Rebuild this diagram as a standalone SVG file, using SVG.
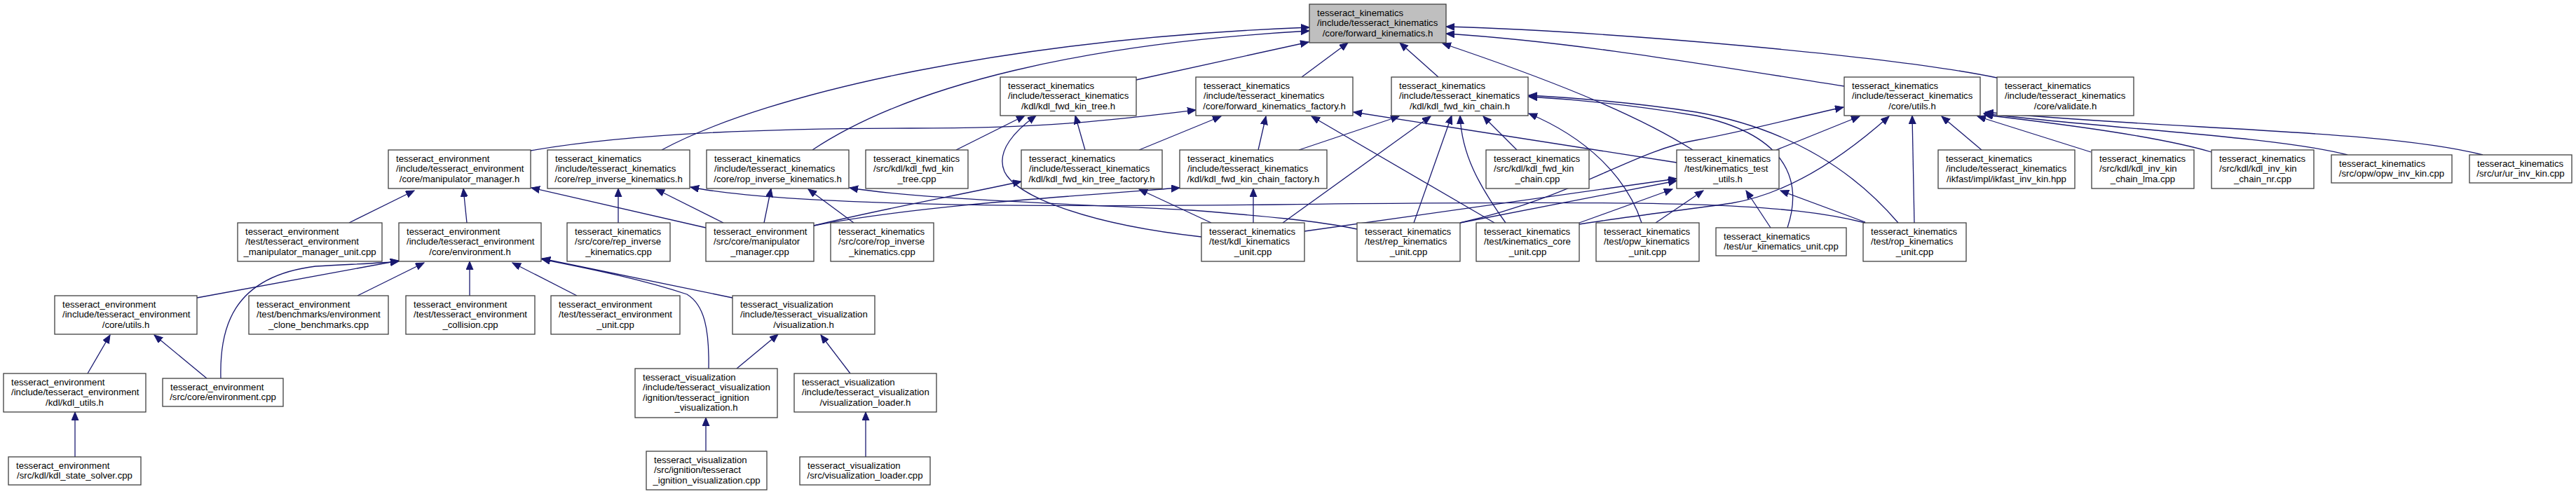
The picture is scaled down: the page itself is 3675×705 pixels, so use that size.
<svg xmlns="http://www.w3.org/2000/svg" width="3675" height="705" viewBox="0 0 3675 705">
<style>
.node rect{fill:#ffffff;stroke:#404040;stroke-width:1.3}
.node.root rect{fill:#bfbfbf}
.node text{font-family:"Liberation Sans",Arial,sans-serif;font-size:13.2px;fill:#000}
.c{text-anchor:middle}
.edges path{fill:none;stroke:#191970;stroke-width:1.3;marker-end:url(#ah)}
</style>
<defs>
<marker id="ah" markerUnits="userSpaceOnUse" markerWidth="14" markerHeight="12" refX="12" refY="5" orient="auto">
<path d="M0,0 L12,5 L0,10 z" fill="#191970" stroke="#191970" stroke-width="1"/>
</marker>
</defs>
<rect width="3675" height="705" fill="#ffffff"/>
<g class="edges" id="edges">
<path d="M944,214 C1100,130 1450,55 1868,39"/>
<path d="M1159,214 C1300,120 1550,62 1868,44"/>
<path d="M1621,114 L1867,60"/>
<path d="M1857,110 L1923,61"/>
<path d="M2052,110 L1997,61"/>
<path d="M2849,111 C2700,80 2300,45 2063,38"/>
<path d="M2631,123 C2450,95 2250,60 2063,48"/>
<path d="M2415,214 C2330,160 2200,110 2058,62"/>
<path d="M757,215 C900,190 1100,183 1300,183 C1500,183 1600,170 1706,157"/>
<path d="M1625,214 L1742,166"/>
<path d="M1795,214 L1806,166"/>
<path d="M2132,318 L1871,166"/>
<path d="M2392,232 L1931,160"/>
<path d="M1364,214 L1462,165"/>
<path d="M1548,214 L1534,165"/>
<path d="M1714,338 C1550,320 1450,280 1433,245 C1420,215 1450,185 1478,165"/>
<path d="M1853,214 L1996,166"/>
<path d="M1830,318 L2041,166"/>
<path d="M2017,318 L2071,165"/>
<path d="M2148,318 C2110,265 2085,220 2083,165"/>
<path d="M2164,214 L2116,166"/>
<path d="M2342,318 C2320,250 2260,195 2181,162"/>
<path d="M2550,325 C2575,250 2540,190 2420,165 C2330,150 2250,142 2181,138"/>
<path d="M2708,318 C2650,250 2560,185 2420,160 C2330,146 2250,140 2181,136"/>
<path d="M2083,318 C2250,280 2330,215 2420,200 C2500,185 2560,168 2630,153"/>
<path d="M2534,214 L2653,166"/>
<path d="M2253,320 C2330,308 2400,300 2470,290 C2560,275 2640,215 2695,166"/>
<path d="M2731,318 L2728,165"/>
<path d="M2827,214 L2770,166"/>
<path d="M2983,217 L2821,166"/>
<path d="M3155,217 C3080,195 2950,178 2831,164"/>
<path d="M3349,221 C3250,195 3000,183 2830,162"/>
<path d="M3542,221 C3400,185 3100,185 2832,160"/>
<path d="M498,318 L591,272"/>
<path d="M666,318 L661,269"/>
<path d="M1007,325 L758,268"/>
<path d="M882,318 L882,269"/>
<path d="M1032,318 L936,270"/>
<path d="M2661,318 C2550,290 2400,285 1820,292 C1400,297 1100,290 985,267"/>
<path d="M1936,327 C1880,315 1800,308 1700,300 C1500,290 1300,283 1212,268"/>
<path d="M1218,318 L1153,270"/>
<path d="M1090,318 L1100,269"/>
<path d="M1161,322 C1250,300 1350,282 1457,259"/>
<path d="M1161,322 C1300,295 1500,282 1683,268"/>
<path d="M1728,318 L1625,270"/>
<path d="M1788,318 L1788,269"/>
<path d="M2253,318 L2386,270"/>
<path d="M1861,330 L2392,255"/>
<path d="M2083,318 L2392,258"/>
<path d="M2362,318 L2430,272"/>
<path d="M2526,325 L2491,272"/>
<path d="M2661,317 L2540,272"/>
<path d="M281,425 L569,372"/>
<path d="M315,540 C313,470 330,395 450,380 C500,377 540,376 569,373"/>
<path d="M510,422 L605,375"/>
<path d="M670,422 L670,373"/>
<path d="M823,422 L731,375"/>
<path d="M1045,425 L773,369"/>
<path d="M1011,526 C1012,470 1005,435 980,420 C920,400 850,385 773,370"/>
<path d="M125,533 L157,478"/>
<path d="M295,540 L220,478"/>
<path d="M107,652 L107,588"/>
<path d="M1051,526 L1110,477"/>
<path d="M1213,533 L1171,478"/>
<path d="M1007,644 L1007,596"/>
<path d="M1235,652 L1235,588"/>
</g>
<g id="n_root" class="node root"><rect x="1868" y="6" width="195" height="55"/><text><tspan x="1879" y="22.5">tesseract_kinematics</tspan><tspan x="1879" y="37">/include/tesseract_kinematics</tspan><tspan class="c" x="1965.5" y="51.5">/core/forward_kinematics.h</tspan></text></g>
<g id="n_tree_h" class="node"><rect x="1427" y="110" width="194" height="55"/><text><tspan x="1438" y="126.5">tesseract_kinematics</tspan><tspan x="1438" y="141">/include/tesseract_kinematics</tspan><tspan class="c" x="1524" y="155.5">/kdl/kdl_fwd_kin_tree.h</tspan></text></g>
<g id="n_fk_factory" class="node"><rect x="1706" y="110" width="224" height="55"/><text><tspan x="1717" y="126.5">tesseract_kinematics</tspan><tspan x="1717" y="141">/include/tesseract_kinematics</tspan><tspan class="c" x="1818" y="155.5">/core/forward_kinematics_factory.h</tspan></text></g>
<g id="n_chain_h" class="node"><rect x="1985" y="110" width="195" height="55"/><text><tspan x="1996" y="126.5">tesseract_kinematics</tspan><tspan x="1996" y="141">/include/tesseract_kinematics</tspan><tspan class="c" x="2082.5" y="155.5">/kdl/kdl_fwd_kin_chain.h</tspan></text></g>
<g id="n_utils_h" class="node"><rect x="2631" y="110" width="194" height="55"/><text><tspan x="2642" y="126.5">tesseract_kinematics</tspan><tspan x="2642" y="141">/include/tesseract_kinematics</tspan><tspan class="c" x="2728" y="155.5">/core/utils.h</tspan></text></g>
<g id="n_validate_h" class="node"><rect x="2849" y="110" width="195" height="55"/><text><tspan x="2860" y="126.5">tesseract_kinematics</tspan><tspan x="2860" y="141">/include/tesseract_kinematics</tspan><tspan class="c" x="2946.5" y="155.5">/core/validate.h</tspan></text></g>
<g id="n_mm_h" class="node"><rect x="554" y="214" width="203" height="55"/><text><tspan x="565" y="230.5">tesseract_environment</tspan><tspan x="565" y="245">/include/tesseract_environment</tspan><tspan class="c" x="655.5" y="259.5">/core/manipulator_manager.h</tspan></text></g>
<g id="n_rep_h" class="node"><rect x="781" y="214" width="203" height="55"/><text><tspan x="792" y="230.5">tesseract_kinematics</tspan><tspan x="792" y="245">/include/tesseract_kinematics</tspan><tspan class="c" x="882.5" y="259.5">/core/rep_inverse_kinematics.h</tspan></text></g>
<g id="n_rop_h" class="node"><rect x="1008" y="214" width="203" height="55"/><text><tspan x="1019" y="230.5">tesseract_kinematics</tspan><tspan x="1019" y="245">/include/tesseract_kinematics</tspan><tspan class="c" x="1109.5" y="259.5">/core/rop_inverse_kinematics.h</tspan></text></g>
<g id="n_tree_cpp" class="node"><rect x="1235" y="214" width="146" height="55"/><text><tspan x="1246" y="230.5">tesseract_kinematics</tspan><tspan x="1246" y="245">/src/kdl/kdl_fwd_kin</tspan><tspan class="c" x="1308" y="259.5">_tree.cpp</tspan></text></g>
<g id="n_tree_factory_h" class="node"><rect x="1457" y="214" width="201" height="55"/><text><tspan x="1468" y="230.5">tesseract_kinematics</tspan><tspan x="1468" y="245">/include/tesseract_kinematics</tspan><tspan class="c" x="1557.5" y="259.5">/kdl/kdl_fwd_kin_tree_factory.h</tspan></text></g>
<g id="n_chain_factory_h" class="node"><rect x="1683" y="214" width="210" height="55"/><text><tspan x="1694" y="230.5">tesseract_kinematics</tspan><tspan x="1694" y="245">/include/tesseract_kinematics</tspan><tspan class="c" x="1788" y="259.5">/kdl/kdl_fwd_kin_chain_factory.h</tspan></text></g>
<g id="n_chain_cpp" class="node"><rect x="2120" y="214" width="147" height="55"/><text><tspan x="2131" y="230.5">tesseract_kinematics</tspan><tspan x="2131" y="245">/src/kdl/kdl_fwd_kin</tspan><tspan class="c" x="2193.5" y="259.5">_chain.cpp</tspan></text></g>
<g id="n_test_utils_h" class="node"><rect x="2392" y="214" width="146" height="55"/><text><tspan x="2403" y="230.5">tesseract_kinematics</tspan><tspan x="2403" y="245">/test/kinematics_test</tspan><tspan class="c" x="2465" y="259.5">_utils.h</tspan></text></g>
<g id="n_ikfast_hpp" class="node"><rect x="2765" y="214" width="195" height="55"/><text><tspan x="2776" y="230.5">tesseract_kinematics</tspan><tspan x="2776" y="245">/include/tesseract_kinematics</tspan><tspan class="c" x="2862.5" y="259.5">/ikfast/impl/ikfast_inv_kin.hpp</tspan></text></g>
<g id="n_lma_cpp" class="node"><rect x="2984" y="214" width="146" height="55"/><text><tspan x="2995" y="230.5">tesseract_kinematics</tspan><tspan x="2995" y="245">/src/kdl/kdl_inv_kin</tspan><tspan class="c" x="3057" y="259.5">_chain_lma.cpp</tspan></text></g>
<g id="n_nr_cpp" class="node"><rect x="3155" y="214" width="146" height="55"/><text><tspan x="3166" y="230.5">tesseract_kinematics</tspan><tspan x="3166" y="245">/src/kdl/kdl_inv_kin</tspan><tspan class="c" x="3228" y="259.5">_chain_nr.cpp</tspan></text></g>
<g id="n_opw_cpp" class="node"><rect x="3326" y="221" width="172" height="40"/><text><tspan x="3337" y="237.5">tesseract_kinematics</tspan><tspan class="c" x="3412" y="252">/src/opw/opw_inv_kin.cpp</tspan></text></g>
<g id="n_ur_cpp" class="node"><rect x="3523" y="221" width="146" height="40"/><text><tspan x="3534" y="237.5">tesseract_kinematics</tspan><tspan class="c" x="3596" y="252">/src/ur/ur_inv_kin.cpp</tspan></text></g>
<g id="n_mm_unit" class="node"><rect x="339" y="318" width="206" height="55"/><text><tspan x="350" y="334.5">tesseract_environment</tspan><tspan x="350" y="349">/test/tesseract_environment</tspan><tspan class="c" x="442" y="363.5">_manipulator_manager_unit.cpp</tspan></text></g>
<g id="n_env_h" class="node"><rect x="569" y="318" width="203" height="55"/><text><tspan x="580" y="334.5">tesseract_environment</tspan><tspan x="580" y="349">/include/tesseract_environment</tspan><tspan class="c" x="670.5" y="363.5">/core/environment.h</tspan></text></g>
<g id="n_rep_cpp" class="node"><rect x="809" y="318" width="147" height="55"/><text><tspan x="820" y="334.5">tesseract_kinematics</tspan><tspan x="820" y="349">/src/core/rep_inverse</tspan><tspan class="c" x="882.5" y="363.5">_kinematics.cpp</tspan></text></g>
<g id="n_mm_cpp" class="node"><rect x="1007" y="318" width="154" height="55"/><text><tspan x="1018" y="334.5">tesseract_environment</tspan><tspan x="1018" y="349">/src/core/manipulator</tspan><tspan class="c" x="1084" y="363.5">_manager.cpp</tspan></text></g>
<g id="n_rop_cpp" class="node"><rect x="1185" y="318" width="147" height="55"/><text><tspan x="1196" y="334.5">tesseract_kinematics</tspan><tspan x="1196" y="349">/src/core/rop_inverse</tspan><tspan class="c" x="1258.5" y="363.5">_kinematics.cpp</tspan></text></g>
<g id="n_kdl_unit" class="node"><rect x="1714" y="318" width="147" height="55"/><text><tspan x="1725" y="334.5">tesseract_kinematics</tspan><tspan x="1725" y="349">/test/kdl_kinematics</tspan><tspan class="c" x="1787.5" y="363.5">_unit.cpp</tspan></text></g>
<g id="n_rep_unit" class="node"><rect x="1936" y="318" width="147" height="55"/><text><tspan x="1947" y="334.5">tesseract_kinematics</tspan><tspan x="1947" y="349">/test/rep_kinematics</tspan><tspan class="c" x="2009.5" y="363.5">_unit.cpp</tspan></text></g>
<g id="n_core_unit" class="node"><rect x="2106" y="318" width="147" height="55"/><text><tspan x="2117" y="334.5">tesseract_kinematics</tspan><tspan x="2117" y="349">/test/kinematics_core</tspan><tspan class="c" x="2179.5" y="363.5">_unit.cpp</tspan></text></g>
<g id="n_opw_unit" class="node"><rect x="2277" y="318" width="147" height="55"/><text><tspan x="2288" y="334.5">tesseract_kinematics</tspan><tspan x="2288" y="349">/test/opw_kinematics</tspan><tspan class="c" x="2350.5" y="363.5">_unit.cpp</tspan></text></g>
<g id="n_ur_unit" class="node"><rect x="2448" y="325" width="186" height="40"/><text><tspan x="2459" y="341.5">tesseract_kinematics</tspan><tspan class="c" x="2541" y="356">/test/ur_kinematics_unit.cpp</tspan></text></g>
<g id="n_rop_unit" class="node"><rect x="2658" y="318" width="147" height="55"/><text><tspan x="2669" y="334.5">tesseract_kinematics</tspan><tspan x="2669" y="349">/test/rop_kinematics</tspan><tspan class="c" x="2731.5" y="363.5">_unit.cpp</tspan></text></g>
<g id="n_env_utils_h" class="node"><rect x="78" y="422" width="203" height="55"/><text><tspan x="89" y="438.5">tesseract_environment</tspan><tspan x="89" y="453">/include/tesseract_environment</tspan><tspan class="c" x="179.5" y="467.5">/core/utils.h</tspan></text></g>
<g id="n_clone_bench" class="node"><rect x="355" y="422" width="199" height="55"/><text><tspan x="366" y="438.5">tesseract_environment</tspan><tspan x="366" y="453">/test/benchmarks/environment</tspan><tspan class="c" x="454.5" y="467.5">_clone_benchmarks.cpp</tspan></text></g>
<g id="n_collision" class="node"><rect x="579" y="422" width="184" height="55"/><text><tspan x="590" y="438.5">tesseract_environment</tspan><tspan x="590" y="453">/test/tesseract_environment</tspan><tspan class="c" x="671" y="467.5">_collision.cpp</tspan></text></g>
<g id="n_env_unit" class="node"><rect x="786" y="422" width="184" height="55"/><text><tspan x="797" y="438.5">tesseract_environment</tspan><tspan x="797" y="453">/test/tesseract_environment</tspan><tspan class="c" x="878" y="467.5">_unit.cpp</tspan></text></g>
<g id="n_viz_h" class="node"><rect x="1045" y="422" width="203" height="55"/><text><tspan x="1056" y="438.5">tesseract_visualization</tspan><tspan x="1056" y="453">/include/tesseract_visualization</tspan><tspan class="c" x="1146.5" y="467.5">/visualization.h</tspan></text></g>
<g id="n_kdl_utils_h" class="node"><rect x="5" y="533" width="203" height="55"/><text><tspan x="16" y="549.5">tesseract_environment</tspan><tspan x="16" y="564">/include/tesseract_environment</tspan><tspan class="c" x="106.5" y="578.5">/kdl/kdl_utils.h</tspan></text></g>
<g id="n_env_cpp" class="node"><rect x="232" y="540" width="172" height="40"/><text><tspan x="243" y="556.5">tesseract_environment</tspan><tspan class="c" x="318" y="571">/src/core/environment.cpp</tspan></text></g>
<g id="n_ign_h" class="node"><rect x="906" y="526" width="203" height="70"/><text><tspan x="917" y="542.5">tesseract_visualization</tspan><tspan x="917" y="557">/include/tesseract_visualization</tspan><tspan x="917" y="571.5">/ignition/tesseract_ignition</tspan><tspan class="c" x="1007.5" y="586">_visualization.h</tspan></text></g>
<g id="n_loader_h" class="node"><rect x="1133" y="533" width="203" height="55"/><text><tspan x="1144" y="549.5">tesseract_visualization</tspan><tspan x="1144" y="564">/include/tesseract_visualization</tspan><tspan class="c" x="1234.5" y="578.5">/visualization_loader.h</tspan></text></g>
<g id="n_solver_cpp" class="node"><rect x="12" y="652" width="189" height="40"/><text><tspan x="23" y="668.5">tesseract_environment</tspan><tspan class="c" x="106.5" y="683">/src/kdl/kdl_state_solver.cpp</tspan></text></g>
<g id="n_ign_cpp" class="node"><rect x="922" y="644" width="172" height="55"/><text><tspan x="933" y="660.5">tesseract_visualization</tspan><tspan x="933" y="675">/src/ignition/tesseract</tspan><tspan class="c" x="1008" y="689.5">_ignition_visualization.cpp</tspan></text></g>
<g id="n_loader_cpp" class="node"><rect x="1141" y="652" width="186" height="40"/><text><tspan x="1152" y="668.5">tesseract_visualization</tspan><tspan class="c" x="1234" y="683">/src/visualization_loader.cpp</tspan></text></g>
</svg>
